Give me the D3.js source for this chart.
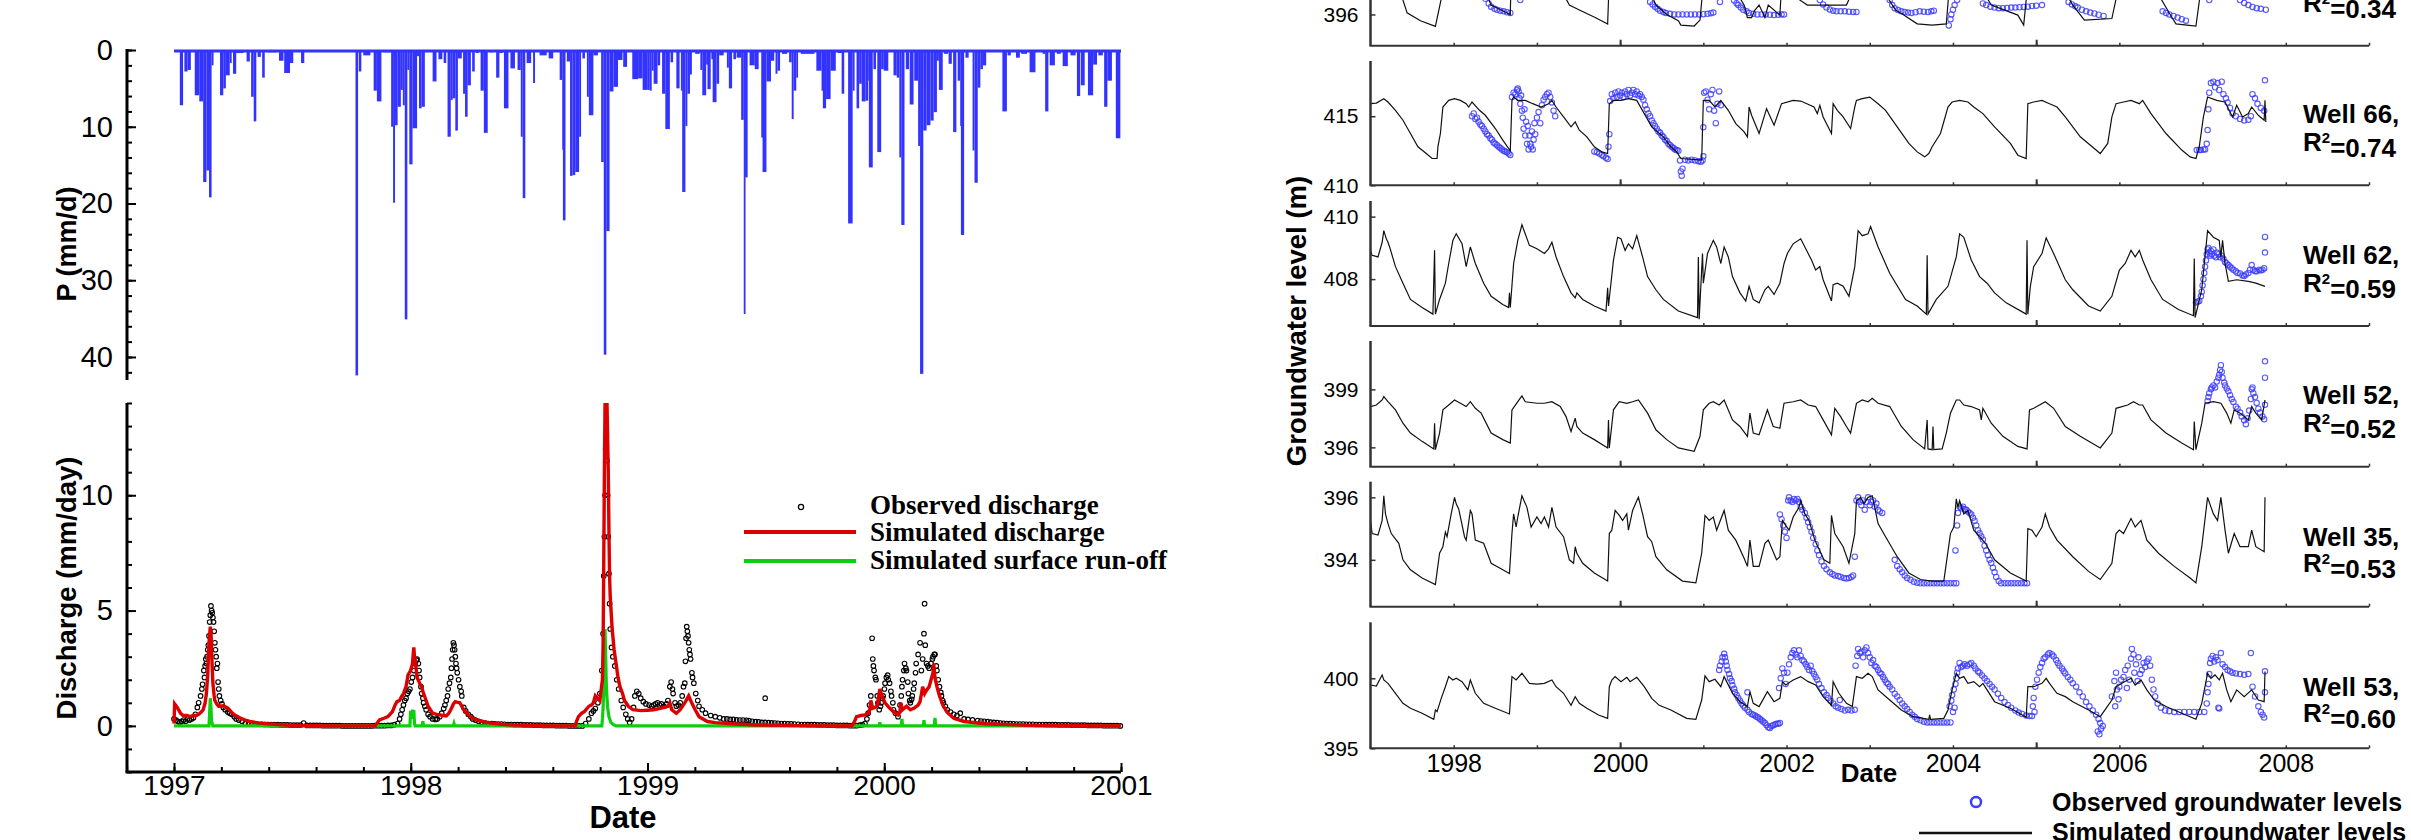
<!DOCTYPE html>
<html><head><meta charset="utf-8">
<script src="https://cdn.jsdelivr.net/npm/d3@7"></script>
<style>body{margin:0;background:#fff}svg{display:block}</style>
</head><body><svg id="c" width="2411" height="840"></svg>
<script>
// ===================== DATA =====================
// ---- Left chart: precipitation events [startDay, endDay, mm/d], days since 1997-01-01
const rainPeriod = [0, 1461];
const rainEvents = [[9,14,7.2],[16,21,2.8],[21,26,2.6],[32,39,5.9],[39,45,6.7],[45,50,17.2],[50,54,15.7],[54,58,19.2],[58,61,2],[71,76,5.9],[76,80,5],[80,86,3.3],[86,89,1.7],[91,96,3.1],[96,107,0.4],[112,117,1.5],[119,123,6.1],[123,127,9.3],[129,134,0.9],[136,140,3.6],[144,158,0.3],[162,169,1.4],[170,179,3.0],[179,184,1.7],[196,201,1.7],[280,284,42.4],[285,289,2.8],[292,303,0.7],[308,313,5.3],[313,320,6.7],[323,334,0.3],[335,338,10],[338,341,19.9],[341,345,9.8],[345,350,7.4],[350,353,5.2],[353,356,7.2],[356,360,35.1],[360,363,2.6],[363,368,14.9],[368,375,10.2],[375,378,0.8],[378,382,7.6],[382,387,7.4],[392,396,0.2],[399,405,4.1],[408,414,1.2],[416,420,1.7],[422,427,11.3],[427,430,6.5],[430,434,6.3],[434,438,10.5],[438,444,1.1],[446,449,5.7],[449,453,8.7],[453,458,4.6],[460,464,2.8],[466,470,0.4],[473,478,5.3],[478,484,10.8],[487,492,0.3],[497,502,3.6],[502,507,0.4],[509,516,7.6],[519,526,2.4],[530,535,2.6],[535,538,11.3],[538,542,19.3],[544,551,1.7],[554,557,4.3],[564,575,0.7],[578,585,1.1],[595,599,3.9],[599,600,13],[600,604,22.2],[606,611,1.5],[611,615,16.4],[615,619,16.3],[619,625,15.9],[625,628,11.3],[630,634,1.1],[637,640,6.1],[640,647,8.5],[647,654,0.7],[659,663,14.6],[663,667,39.7],[667,672,23.6],[672,678,5.4],[678,685,4.8],[685,692,1.3],[693,699,2.2],[707,716,3.8],[716,723,3.7],[723,730,5.2],[730,734,5.2],[734,737,5.3],[737,740,2.7],[740,746,4.4],[746,750,2],[753,758,5.7],[758,765,10.3],[766,770,1.6],[775,780,5],[782,784,5.3],[784,789,18.5],[789,792,9.9],[792,796,5.7],[796,799,3.2],[804,811,0.5],[812,815,2.6],[815,821,5.9],[821,823,1.9],[823,828,5.1],[829,831,1.2],[831,837,6.8],[837,841,4.4],[841,848,0.7],[853,856,2.3],[856,861,5],[863,867,1.2],[868,875,1],[875,879,9.1],[879,881,34.4],[881,885,16.6],[888,896,2],[896,902,2.5],[906,908,11.4],[908,914,15.9],[914,921,4.1],[921,926,1.4],[928,931,3.1],[931,935,2.7],[938,946,0.5],[949,953,1.6],[953,956,9],[956,960,5.3],[960,962,3.6],[967,988,0.5],[991,999,2.7],[999,1001,5.3],[1001,1006,7.6],[1006,1013,6.4],[1013,1021,2.7],[1024,1030,0.4],[1030,1034,5.7],[1040,1047,22.6],[1047,1050,5.3],[1050,1053,0.2],[1053,1057,7.6],[1057,1061,4.4],[1061,1067,6.7],[1067,1071,6.6],[1071,1072,4],[1072,1078,15.3],[1079,1083,2.5],[1085,1091,13.3],[1091,1095,2.5],[1095,1102,2.7],[1110,1115,3.3],[1115,1119,3.6],[1119,1122,14],[1122,1127,22.8],[1129,1134,2.5],[1135,1141,7.1],[1142,1148,4],[1148,1151,12.5],[1151,1156,42.2],[1156,1161,10.5],[1161,1167,9.8],[1167,1172,9.2],[1172,1177,8.1],[1177,1180,1.4],[1180,1186,5.2],[1188,1194,0.5],[1195,1200,1.8],[1202,1207,10.7],[1209,1213,4],[1213,1214,9.9],[1214,1219,24.1],[1221,1226,1],[1232,1235,13.1],[1235,1240,17.3],[1240,1244,4.9],[1244,1248,2.5],[1248,1253,2],[1278,1285,8],[1286,1291,0.7],[1299,1305,1],[1307,1316,0.5],[1320,1329,2.9],[1340,1344,0.5],[1344,1349,8],[1351,1359,2],[1362,1368,0.5],[1371,1379,2.1],[1383,1391,0.7],[1393,1398,6],[1399,1405,4.6],[1410,1418,5.9],[1418,1424,1.9],[1426,1433,0.7],[1435,1440,7.4],[1440,1447,4],[1453,1460,11.5]];

// ---- Observed discharge [day, mm/day]
const obsDischarge = [[0,0.3],[3,0.25],[6,0.2],[9,0.15],[12,0.2],[15,0.25],[18,0.2],[21,0.3],[24,0.25],[27,0.3],[30,0.35],[33,0.5],[36,0.8],[38,1.0],[41,1.3],[43,1.6],[44,1.8],[46,2.4],[47,2.1],[48,2.6],[49,2.9],[50,2.7],[51,3.0],[52,3.3],[53,3.5],[54,3.9],[55,4.5],[56,4.8],[57,5.2],[58,5.0],[59,4.9],[60,4.7],[61,4.5],[62,4.1],[63,3.6],[64,3.3],[65,3.0],[66,2.5],[67,2.7],[68,1.9],[69,1.6],[70,1.3],[72,1.1],[74,0.95],[76,0.8],[79,0.7],[83,0.6],[86,0.55],[89,0.5],[93,0.4],[96,0.3],[100,0.25],[105,0.2],[110,0.1],[115,0.1],[120,0.08],[125,0.08],[130,0.07],[135,0.07],[140,0.06],[145,0.06],[150,0.05],[155,0.05],[160,0.05],[165,0.04],[170,0.04],[175,0.04],[180,0.03],[185,0.03],[190,0.03],[195,0.03],[200,0.12],[205,0.02],[210,0.02],[215,0.02],[220,0.02],[225,0.02],[230,0.01],[235,0.01],[240,0.01],[245,0.01],[250,0.01],[255,0.01],[260,0],[265,0],[270,0],[275,0],[280,0],[285,0],[290,0],[295,0],[300,0],[305,0],[310,0.01],[315,0.01],[320,0.01],[325,0.01],[330,0.02],[335,0.02],[340,0.05],[345,0.1],[348,0.3],[350,0.5],[352,0.7],[354,0.9],[356,1.1],[358,1.2],[360,1.4],[362,1.5],[364,1.6],[366,1.9],[368,2.1],[370,2.4],[372,2.7],[374,2.85],[375,2.9],[377,2.7],[378,2.4],[379,2.1],[381,1.7],[382,1.4],[384,1.2],[385,1.0],[387,0.85],[389,0.7],[392,0.5],[395,0.4],[399,0.3],[403,0.28],[406,0.3],[410,0.4],[413,0.55],[416,0.75],[418,0.9],[420,1.1],[422,1.3],[423,1.6],[425,1.85],[427,2.1],[428,2.5],[429,2.9],[430,3.3],[431,3.6],[432,3.5],[433,3.3],[434,3.0],[435,2.7],[436,2.5],[437,2.3],[439,2.0],[441,1.7],[443,1.5],[444,1.3],[447,0.8],[450,0.65],[454,0.5],[458,0.4],[461,0.3],[465,0.25],[470,0.2],[475,0.15],[480,0.12],[485,0.1],[490,0.1],[495,0.09],[500,0.08],[505,0.08],[510,0.07],[515,0.06],[520,0.06],[525,0.05],[530,0.05],[535,0.05],[540,0.04],[545,0.04],[550,0.04],[555,0.03],[560,0.03],[565,0.03],[570,0.02],[575,0.02],[580,0.02],[585,0.02],[590,0.01],[595,0.01],[600,0.01],[605,0.01],[610,0],[615,0],[620,0],[625,0],[630,0],[635,0.1],[640,0.3],[644,0.55],[647,0.65],[650,0.75],[654,1.0],[657,1.4],[660,2.4],[662,4.0],[663,6.5],[664,8.2],[665,10.0],[666,12.0],[667,12.6],[668,11.5],[669,10.0],[670,8.2],[671,6.6],[672,5.3],[673,4.2],[675,3.4],[677,3.0],[680,2.6],[683,2.0],[686,1.6],[690,1.1],[693,0.8],[697,0.5],[700,0.3],[703,0.15],[706,0.3],[709,0.8],[711,1.3],[714,1.5],[717,1.4],[720,1.2],[724,1.05],[728,0.95],[733,0.9],[737,0.85],[740,0.9],[743,0.95],[746,1.0],[749,0.9],[752,0.95],[756,0.85],[760,0.95],[762,1.1],[765,1.7],[767,1.9],[769,1.6],[770,1.4],[773,1.0],[775,0.85],[778,0.9],[781,1.0],[784,1.3],[786,1.7],[788,1.85],[789,2.8],[790,3.8],[791,4.3],[792,4.1],[793,3.9],[794,3.6],[795,3.3],[796,3.1],[797,2.9],[799,2.3],[800,2.1],[802,1.85],[805,1.4],[808,1.1],[810,0.85],[815,0.7],[820,0.55],[828,0.45],[835,0.4],[842,0.35],[848,0.3],[853,0.3],[858,0.28],[863,0.28],[868,0.26],[873,0.25],[878,0.25],[883,0.24],[887,0.23],[892,0.2],[897,0.18],[902,0.17],[907,0.15],[912,1.2],[912,0.15],[917,0.14],[922,0.13],[927,0.12],[932,0.11],[937,0.1],[942,0.1],[947,0.09],[952,0.09],[957,0.08],[963,0.07],[968,0.06],[973,0.06],[978,0.05],[983,0.05],[988,0.05],[993,0.04],[998,0.04],[1003,0.04],[1008,0.03],[1013,0.03],[1018,0.03],[1023,0.02],[1028,0.02],[1033,0.02],[1038,0.02],[1043,0.01],[1048,0.01],[1053,0.01],[1058,0.03],[1062,0.05],[1066,0.1],[1069,0.3],[1071,0.55],[1073,0.9],[1075,1.3],[1077,3.8],[1078,2.9],[1079,2.6],[1080,2.4],[1082,2.1],[1083,2.0],[1085,1.3],[1086,1.0],[1088,0.7],[1090,0.85],[1091,1.0],[1093,1.2],[1094,1.3],[1096,1.6],[1097,1.85],[1099,2.1],[1101,2.2],[1102,2.0],[1104,1.85],[1106,1.5],[1107,1.3],[1109,1.0],[1110,0.7],[1113,0.55],[1117,0.4],[1120,0.9],[1122,1.3],[1123,1.7],[1124,2.0],[1126,2.4],[1127,2.7],[1129,2.5],[1130,2.4],[1132,1.9],[1133,1.4],[1135,1.1],[1136,1.0],[1138,1.15],[1139,1.3],[1141,1.6],[1142,1.85],[1144,2.3],[1145,2.7],[1148,3.1],[1151,3.6],[1153,2.4],[1155,2.9],[1157,4.0],[1158,5.3],[1159,3.5],[1161,2.7],[1163,2.6],[1165,2.5],[1168,2.7],[1170,2.9],[1171,3.0],[1173,3.1],[1174,3.1],[1176,2.6],[1177,2.4],[1179,2.0],[1181,1.7],[1183,1.45],[1184,1.3],[1186,1.1],[1187,1.0],[1190,0.85],[1193,0.7],[1198,0.6],[1203,0.5],[1208,0.45],[1213,0.55],[1219,0.3],[1225,0.28],[1232,0.26],[1240,0.23],[1245,0.21],[1250,0.2],[1255,0.18],[1260,0.16],[1265,0.15],[1270,0.14],[1275,0.12],[1280,0.11],[1285,0.1],[1290,0.1],[1295,0.09],[1300,0.08],[1305,0.08],[1310,0.08],[1315,0.07],[1320,0.07],[1325,0.07],[1330,0.06],[1335,0.06],[1340,0.06],[1345,0.05],[1350,0.05],[1355,0.05],[1360,0.05],[1365,0.04],[1370,0.04],[1375,0.04],[1380,0.04],[1385,0.03],[1390,0.03],[1395,0.03],[1400,0.03],[1405,0.03],[1410,0.02],[1415,0.02],[1420,0.02],[1425,0.02],[1430,0.02],[1435,0.01],[1440,0.01],[1445,0.01],[1450,0.01],[1455,0.01],[1460,0]];

// ---- Simulated discharge [day, mm/day]
const simDischarge = [[0,0.1],[1,0.95],[5,0.8],[10,0.55],[14,0.45],[20,0.45],[25,0.4],[30,0.45],[34,0.45],[38,0.5],[42,0.6],[45,0.7],[48,1.0],[50,1.4],[52,2.2],[54,3.6],[56,4.3],[57,4.1],[58,3.3],[59,2.5],[60,1.85],[62,1.3],[63,1.1],[66,0.95],[69,0.85],[72,0.85],[76,0.87],[80,0.82],[83,0.77],[86,0.68],[89,0.58],[95,0.45],[103,0.33],[110,0.25],[117,0.19],[130,0.13],[145,0.09],[160,0.06],[179,0.03],[213,0.01],[250,0.0],[310,0.0],[313,0.1],[317,0.26],[324,0.33],[330,0.4],[337,0.62],[341,0.9],[344,1.05],[348,1.1],[351,1.27],[354,1.4],[358,1.7],[361,2.2],[365,2.4],[368,2.7],[369,3.1],[370,3.4],[371,3.0],[372,2.9],[375,2.1],[379,1.85],[382,1.7],[385,1.4],[389,1.1],[392,0.85],[399,0.55],[405,0.5],[410,0.48],[415,0.45],[420,0.43],[424,0.55],[427,0.7],[431,0.95],[434,1.05],[438,1.02],[441,1.0],[444,0.85],[447,0.7],[451,0.58],[454,0.48],[461,0.33],[468,0.25],[475,0.19],[489,0.12],[505,0.07],[523,0.04],[558,0.01],[590,0.0],[619,0.0],[621,0.2],[624,0.4],[629,0.55],[633,0.62],[637,0.75],[640,0.85],[644,0.9],[647,1.0],[650,1.3],[653,1.2],[657,1.1],[660,1.8],[661,2.0],[662,3.5],[663,7.0],[664,11.0],[665,14.0],[668,14.0],[670,11.0],[671,8.5],[672,6.5],[673,5.6],[676,4.2],[679,3.3],[682,2.7],[685,2.1],[688,1.7],[692,1.4],[695,1.1],[701,0.85],[708,0.7],[720,0.66],[730,0.68],[740,0.7],[752,0.77],[762,0.85],[765,1.0],[768,0.7],[775,0.55],[781,0.7],[788,1.0],[794,1.3],[797,1.1],[804,0.7],[810,0.4],[823,0.19],[835,0.14],[867,0.08],[899,0.04],[963,0.01],[1046,0.0],[1050,0.2],[1053,0.4],[1060,0.45],[1066,0.48],[1072,0.55],[1074,0.8],[1075,1.1],[1078,0.76],[1082,0.8],[1085,0.9],[1089,1.6],[1092,1.3],[1097,1.0],[1104,0.77],[1110,0.62],[1117,0.48],[1120,0.6],[1121,1.0],[1124,0.7],[1130,0.85],[1136,0.7],[1142,0.77],[1148,0.9],[1151,1.05],[1155,1.7],[1158,1.4],[1161,1.55],[1165,1.7],[1168,2.0],[1171,2.3],[1172,2.7],[1174,2.1],[1177,1.7],[1181,1.3],[1187,0.85],[1193,0.58],[1203,0.33],[1219,0.19],[1251,0.09],[1315,0.03],[1400,0.01],[1461,0.0]];

// ---- Simulated surface run-off [day, mm/day]
const simRunoff = [[0,0],[54,0],[55,0.6],[56,1.2],[57,0.8],[58,0.2],[60,0],[364,0],[365,0.65],[366,0.3],[367,0.5],[368,0.7],[369,0.4],[370,0.68],[371,0.1],[372,0],[383,0],[384,0.2],[385,0],[431,0],[432,0.1],[433,0],[660,0],[661,0.3],[662,0.8],[663,1.5],[664,3.0],[665,4.2],[666,3.0],[667,1.8],[668,1.2],[669,0.8],[671,0.4],[674,0.15],[678,0.05],[682,0],[1088,0],[1089,0.15],[1090,0],[1122,0],[1123,0.3],[1124,0],[1156,0],[1157,0.25],[1158,0],[1173,0],[1174,0.35],[1175,0],[1461,0]];

const leftYearTicks = [1997, 1998, 1999, 2000, 2001];
const precipTicks = [0, 10, 20, 30, 40];
const dischargeTicks = [0, 5, 10];
const legendLeft = ["Observed discharge", "Simulated discharge", "Simulated surface run-off"];

// ---- Right chart: groundwater levels [decimal year, m]
const wellTopSim = [[1997.0,397.2],[1997.2,397.4],[1997.36,396.9],[1997.39,396.46],[1997.44,396.05],[1997.6,395.8],[1997.78,395.62],[1997.85,396.5],[1997.92,397.3],[1998.2,397.3],[1998.4,396.6],[1998.45,396.3],[1998.6,396.1],[1998.68,396.0],[1998.69,397.2],[1999.2,397.2],[1999.35,396.5],[1999.39,396.3],[1999.51,396.14],[1999.7,395.9],[1999.85,395.69],[1999.87,397.2],[2000.3,397.1],[2000.43,396.3],[2000.56,396.0],[2000.7,395.8],[2000.73,395.66],[2000.89,395.63],[2000.96,395.82],[2001.0,397.0],[2001.4,396.7],[2001.49,396.3],[2001.53,395.9],[2001.58,395.9],[2001.62,396.14],[2001.67,396.3],[2001.74,395.9],[2001.78,396.3],[2001.92,395.98],[2001.94,396.9],[2002.16,396.46],[2002.25,396.3],[2002.72,396.3],[2002.77,396.6],[2002.84,397.3],[2003.2,396.6],[2003.31,396.14],[2003.4,396.0],[2003.57,395.7],[2003.75,395.66],[2003.92,395.7],[2003.96,397.0],[2004.35,396.8],[2004.46,396.3],[2004.78,395.98],[2004.85,395.66],[2004.9,397.0],[2005.35,396.7],[2005.44,396.3],[2005.58,395.82],[2005.91,395.87],[2006.0,397.0],[2006.5,396.5],[2006.61,396.0],[2006.68,395.7],[2006.92,395.63],[2006.99,397.0],[2007.4,396.8],[2007.75,396.6]];
const wellTopObs = [[1998.38,396.5],[1998.42,396.35],[1998.45,396.25],[1998.49,396.18],[1998.52,396.15],[1998.56,396.12],[1998.6,396.1],[1998.64,396.07],[1998.68,396.05],[1998.8,396.46],[2000.36,396.4],[2000.39,396.32],[2000.42,396.25],[2000.45,396.18],[2000.48,396.12],[2000.52,396.08],[2000.55,396.05],[2000.6,396.02],[2000.65,396.0],[2000.7,396.0],[2000.75,396.0],[2000.8,396.0],[2000.85,396.0],[2000.9,396.0],[2000.95,396.0],[2001.0,396.01],[2001.05,396.02],[2001.09,396.04],[2001.12,396.06],[2001.2,396.4],[2001.37,396.45],[2001.4,396.36],[2001.42,396.3],[2001.45,396.22],[2001.48,396.15],[2001.52,396.1],[2001.55,396.05],[2001.6,396.02],[2001.65,396.0],[2001.7,396.0],[2001.75,396.0],[2001.8,395.99],[2001.85,395.98],[2001.9,395.99],[2001.94,396.0],[2001.97,396.0],[2002.4,396.46],[2002.44,396.32],[2002.48,396.22],[2002.52,396.16],[2002.56,396.12],[2002.6,396.1],[2002.65,396.1],[2002.7,396.1],[2002.75,396.09],[2002.8,396.08],[2002.84,396.08],[2003.24,396.46],[2003.27,396.3],[2003.3,396.2],[2003.34,396.14],[2003.38,396.1],[2003.42,396.08],[2003.46,396.06],[2003.5,396.05],[2003.55,396.07],[2003.6,396.1],[2003.65,396.09],[2003.7,396.08],[2003.74,396.1],[2003.77,396.12],[2003.95,395.65],[2003.97,395.85],[2003.98,396.0],[2004.0,396.15],[2004.02,396.3],[2004.05,396.46],[2004.36,396.35],[2004.4,396.3],[2004.45,396.25],[2004.5,396.22],[2004.55,396.2],[2004.6,396.2],[2004.65,396.21],[2004.7,396.22],[2004.75,396.22],[2004.8,396.23],[2004.85,396.24],[2004.9,396.25],[2004.95,396.27],[2005.0,396.28],[2005.07,396.3],[2005.39,396.4],[2005.43,396.32],[2005.47,396.26],[2005.5,396.22],[2005.55,396.15],[2005.6,396.1],[2005.65,396.06],[2005.7,396.03],[2005.75,395.99],[2005.81,395.95],[2006.52,396.1],[2006.56,396.05],[2006.6,396.0],[2006.65,395.95],[2006.7,395.9],[2006.75,395.85],[2006.8,395.8],[2007.08,396.46],[2007.45,396.46],[2007.5,396.37],[2007.55,396.3],[2007.6,396.24],[2007.65,396.2],[2007.7,396.18],[2007.76,396.15]];

const well66Sim = [[1997.0,415.91],[1997.07,415.95],[1997.16,416.27],[1997.21,416.03],[1997.3,415.43],[1997.39,414.71],[1997.48,413.75],[1997.57,412.79],[1997.67,412.3],[1997.74,411.94],[1997.8,411.94],[1997.81,412.79],[1997.84,413.75],[1997.87,415.67],[1997.94,416.15],[1998.01,416.27],[1998.08,416.15],[1998.15,415.91],[1998.18,415.67],[1998.22,416.03],[1998.31,415.43],[1998.38,415.07],[1998.5,414.11],[1998.59,413.27],[1998.68,412.5],[1998.7,416.15],[1998.72,416.39],[1998.77,416.15],[1998.86,416.15],[1998.95,415.91],[1999.05,415.67],[1999.14,415.91],[1999.18,416.15],[1999.23,415.67],[1999.32,414.95],[1999.41,414.23],[1999.46,414.59],[1999.51,413.99],[1999.6,413.51],[1999.69,412.79],[1999.78,412.42],[1999.85,412.3],[1999.87,415.91],[1999.92,416.15],[2000.01,416.15],[2000.1,416.27],[2000.2,416.15],[2000.29,415.19],[2000.38,414.23],[2000.52,413.51],[2000.61,412.79],[2000.68,412.42],[2000.73,411.94],[2000.98,411.82],[2001.0,416.15],[2001.07,416.15],[2001.14,415.67],[2001.21,416.15],[2001.3,415.43],[2001.39,414.47],[2001.49,413.87],[2001.53,413.51],[2001.55,415.67],[2001.58,415.07],[2001.67,413.75],[2001.76,415.55],[2001.85,414.35],[2001.94,415.91],[2002.08,416.15],[2002.17,416.1],[2002.33,415.67],[2002.37,415.19],[2002.4,415.79],[2002.44,414.95],[2002.54,413.75],[2002.56,415.91],[2002.61,415.43],[2002.68,414.95],[2002.77,414.11],[2002.82,415.67],[2002.84,416.15],[2002.91,416.27],[2003.0,416.39],[2003.1,415.91],[2003.19,415.43],[2003.33,414.23],[2003.47,413.03],[2003.57,412.42],[2003.66,412.06],[2003.71,412.3],[2003.75,412.79],[2003.85,413.75],[2003.94,415.67],[2003.99,416.03],[2004.08,416.15],[2004.18,416.03],[2004.25,415.67],[2004.36,415.19],[2004.5,414.23],[2004.69,413.03],[2004.78,412.18],[2004.88,411.94],[2004.9,415.91],[2004.97,416.03],[2005.07,416.15],[2005.16,415.91],[2005.25,415.67],[2005.35,414.95],[2005.53,413.51],[2005.72,412.55],[2005.77,412.3],[2005.86,413.03],[2005.91,414.95],[2005.96,415.91],[2006.05,416.03],[2006.14,416.15],[2006.24,415.91],[2006.28,416.15],[2006.38,415.19],[2006.56,413.75],[2006.75,412.55],[2006.85,412.06],[2006.92,411.94],[2006.96,412.79],[2007.01,414.95],[2007.06,416.39],[2007.17,416.15],[2007.27,416.03],[2007.36,414.95],[2007.41,415.79],[2007.48,414.95],[2007.55,415.19],[2007.59,415.67],[2007.67,415.07],[2007.74,414.71],[2007.75,416.15],[2007.76,414.59]];
const well66Obs = [[1998.22,415.0],[1998.24,415.2],[1998.26,414.8],[1998.28,414.9],[1998.3,414.6],[1998.32,414.4],[1998.34,414.3],[1998.36,414.1],[1998.38,413.9],[1998.4,413.7],[1998.42,413.6],[1998.44,413.4],[1998.46,413.3],[1998.48,413.1],[1998.5,413.0],[1998.52,412.9],[1998.54,412.8],[1998.56,412.7],[1998.58,412.6],[1998.6,412.5],[1998.62,412.45],[1998.64,412.4],[1998.66,412.3],[1998.68,412.2],[1998.7,416.4],[1998.72,416.7],[1998.74,416.6],[1998.76,416.9],[1998.77,417.0],[1998.78,416.8],[1998.79,416.3],[1998.8,415.9],[1998.81,416.5],[1998.82,415.4],[1998.83,414.9],[1998.84,414.1],[1998.85,415.5],[1998.86,413.6],[1998.87,414.6],[1998.88,413.0],[1998.89,414.3],[1998.9,412.6],[1998.91,413.6],[1998.92,413.0],[1998.93,412.8],[1998.94,413.9],[1998.95,412.6],[1998.96,413.3],[1998.97,414.5],[1998.98,413.7],[1999.0,414.9],[1999.02,415.3],[1999.04,414.5],[1999.06,415.8],[1999.08,416.2],[1999.1,416.4],[1999.12,416.6],[1999.14,416.7],[1999.16,416.4],[1999.18,416.0],[1999.2,415.4],[1999.22,415.0],[1999.69,412.45],[1999.72,412.4],[1999.75,412.3],[1999.78,412.2],[1999.8,412.1],[1999.83,412.0],[1999.85,411.9],[1999.86,412.8],[1999.87,413.7],[1999.88,416.1],[1999.9,416.6],[1999.92,416.3],[1999.94,416.7],[1999.96,416.4],[1999.98,416.8],[2000.0,416.5],[2000.02,416.7],[2000.04,416.4],[2000.06,416.8],[2000.08,416.6],[2000.1,416.9],[2000.12,416.5],[2000.14,416.7],[2000.16,416.9],[2000.18,416.6],[2000.2,416.8],[2000.22,416.5],[2000.24,416.6],[2000.26,416.4],[2000.28,416.2],[2000.3,415.8],[2000.32,415.5],[2000.34,415.2],[2000.36,415.0],[2000.38,414.7],[2000.4,414.5],[2000.42,414.3],[2000.44,414.1],[2000.46,413.9],[2000.48,413.8],[2000.5,413.6],[2000.52,413.5],[2000.54,413.3],[2000.56,413.2],[2000.58,413.0],[2000.6,412.9],[2000.62,412.8],[2000.64,412.7],[2000.66,412.6],[2000.68,412.55],[2000.7,412.5],[2000.72,411.8],[2000.73,411.0],[2000.74,410.7],[2000.75,411.2],[2000.78,411.85],[2000.82,411.8],[2000.86,411.85],[2000.9,411.8],[2000.94,411.75],[2000.97,411.7],[2000.99,411.8],[2001.0,412.1],[2001.0,414.2],[2001.01,416.7],[2001.03,416.8],[2001.05,416.2],[2001.07,415.5],[2001.09,416.6],[2001.11,416.9],[2001.13,415.4],[2001.15,414.5],[2001.17,415.9],[2001.19,416.8],[2001.21,415.8],[2006.93,412.55],[2006.96,412.55],[2006.98,412.55],[2007.01,412.6],[2007.03,412.6],[2007.05,413.0],[2007.06,414.0],[2007.07,415.5],[2007.08,416.7],[2007.1,417.4],[2007.13,417.5],[2007.15,417.1],[2007.18,417.4],[2007.2,416.9],[2007.23,417.5],[2007.25,416.6],[2007.28,416.3],[2007.3,416.0],[2007.33,415.6],[2007.36,415.2],[2007.4,415.0],[2007.45,414.8],[2007.5,414.7],[2007.55,414.75],[2007.58,415.0],[2007.6,416.6],[2007.63,416.3],[2007.66,415.9],[2007.7,415.6],[2007.74,415.4],[2007.75,417.6]];

const well62Sim = [[1997.0,408.92],[1997.02,408.76],[1997.09,408.71],[1997.14,409.18],[1997.16,409.55],[1997.19,409.29],[1997.21,409.18],[1997.23,409.03],[1997.3,408.4],[1997.39,407.87],[1997.48,407.35],[1997.62,407.09],[1997.75,406.88],[1997.77,408.92],[1997.78,406.88],[1997.83,407.35],[1997.9,407.87],[1997.94,408.5],[1997.99,409.24],[1998.03,409.45],[1998.1,409.13],[1998.15,408.4],[1998.2,409.03],[1998.26,408.5],[1998.36,407.87],[1998.45,407.45],[1998.59,407.19],[1998.66,407.09],[1998.67,407.56],[1998.68,407.09],[1998.72,408.5],[1998.77,409.24],[1998.82,409.74],[1998.91,409.08],[1999.0,408.97],[1999.09,408.82],[1999.14,408.97],[1999.18,409.18],[1999.23,408.71],[1999.32,408.08],[1999.41,407.56],[1999.46,407.4],[1999.48,407.56],[1999.55,407.35],[1999.69,407.14],[1999.83,406.98],[1999.85,407.72],[1999.86,407.14],[1999.92,408.61],[1999.97,409.34],[2000.01,409.29],[2000.06,408.92],[2000.1,409.13],[2000.15,408.97],[2000.2,409.39],[2000.27,408.71],[2000.33,408.08],[2000.43,407.66],[2000.52,407.35],[2000.7,406.98],[2000.93,406.77],[2000.94,408.71],[2000.95,406.72],[2000.99,408.82],[2001.0,407.87],[2001.05,408.82],[2001.12,409.24],[2001.16,409.03],[2001.21,408.5],[2001.25,409.03],[2001.3,408.71],[2001.35,408.08],[2001.44,407.56],[2001.51,407.3],[2001.55,407.77],[2001.6,407.35],[2001.67,407.24],[2001.74,407.66],[2001.78,407.77],[2001.85,407.51],[2001.92,407.87],[2001.97,408.5],[2002.01,408.82],[2002.08,409.13],[2002.17,409.29],[2002.3,408.61],[2002.35,408.29],[2002.4,408.4],[2002.44,407.98],[2002.54,407.3],[2002.56,407.82],[2002.61,407.87],[2002.68,407.77],[2002.75,407.45],[2002.82,408.4],[2002.86,409.55],[2002.91,409.39],[2002.98,409.45],[2003.01,409.68],[2003.1,409.03],[2003.24,408.19],[2003.43,407.35],[2003.57,407.14],[2003.68,406.88],[2003.69,408.76],[2003.7,406.88],[2003.8,407.35],[2003.94,407.77],[2004.04,408.71],[2004.08,409.45],[2004.13,409.34],[2004.22,408.61],[2004.32,408.08],[2004.41,407.87],[2004.5,407.56],[2004.64,407.24],[2004.88,406.88],[2004.89,409.24],[2004.9,406.88],[2004.93,407.77],[2004.97,408.4],[2005.07,408.82],[2005.12,409.32],[2005.21,408.82],[2005.35,407.98],[2005.44,407.66],[2005.63,407.14],[2005.77,406.98],[2005.91,407.45],[2006.0,408.29],[2006.07,408.5],[2006.14,408.92],[2006.19,408.71],[2006.24,408.92],[2006.28,408.61],[2006.38,407.98],[2006.52,407.35],[2006.71,407.03],[2006.89,406.83],[2006.9,408.66],[2006.91,406.77],[2006.99,407.66],[2007.06,409.55],[2007.13,409.34],[2007.2,409.24],[2007.22,408.71],[2007.24,409.24],[2007.27,408.5],[2007.31,407.93],[2007.41,407.98],[2007.55,407.93],[2007.64,407.87],[2007.75,407.77]];
const well62Obs = [[2006.92,407.25],[2006.94,407.28],[2006.96,407.3],[2006.98,407.45],[2006.99,407.6],[2007.0,407.8],[2007.01,408.0],[2007.02,408.2],[2007.03,408.4],[2007.04,408.6],[2007.05,408.8],[2007.06,408.95],[2007.07,409.0],[2007.08,408.85],[2007.09,408.75],[2007.1,408.9],[2007.11,408.8],[2007.13,408.95],[2007.14,408.75],[2007.16,408.7],[2007.17,408.85],[2007.19,408.8],[2007.21,408.7],[2007.23,408.75],[2007.25,408.65],[2007.27,408.55],[2007.29,408.5],[2007.31,408.45],[2007.33,408.4],[2007.35,408.35],[2007.37,408.3],[2007.4,408.25],[2007.42,408.2],[2007.45,408.18],[2007.48,408.12],[2007.5,408.1],[2007.52,408.15],[2007.55,408.2],[2007.57,408.3],[2007.59,408.45],[2007.61,408.3],[2007.63,408.25],[2007.65,408.25],[2007.68,408.3],[2007.7,408.28],[2007.72,408.3],[2007.74,408.35],[2007.75,409.35],[2007.75,408.85]];

const well52Sim = [[1997.0,398.11],[1997.07,398.19],[1997.14,398.45],[1997.16,398.62],[1997.21,398.36],[1997.3,397.94],[1997.39,397.25],[1997.48,396.74],[1997.62,396.31],[1997.76,395.92],[1997.77,397.25],[1997.78,395.88],[1997.83,396.74],[1997.87,397.94],[1997.94,398.19],[1998.01,398.45],[1998.08,398.28],[1998.15,398.11],[1998.2,398.36],[1998.26,398.02],[1998.33,397.77],[1998.45,396.74],[1998.59,396.4],[1998.68,396.22],[1998.7,397.94],[1998.77,398.36],[1998.82,398.66],[1998.86,398.36],[1999.0,398.28],[1999.09,398.28],[1999.18,398.36],[1999.28,398.11],[1999.35,397.59],[1999.41,396.82],[1999.46,397.51],[1999.48,397.08],[1999.55,396.74],[1999.69,396.4],[1999.85,395.97],[1999.86,397.42],[1999.87,395.97],[1999.92,397.94],[1999.99,398.36],[2000.08,398.28],[2000.15,398.36],[2000.22,398.45],[2000.33,397.77],[2000.43,396.91],[2000.56,396.4],[2000.7,395.97],[2000.89,395.8],[2000.96,396.57],[2001.0,397.94],[2001.07,398.28],[2001.12,398.36],[2001.19,398.19],[2001.25,398.45],[2001.35,397.42],[2001.44,397.08],[2001.53,396.57],[2001.56,397.77],[2001.6,396.74],[2001.67,396.65],[2001.77,397.94],[2001.84,397.08],[2001.92,396.99],[2001.97,398.28],[2002.08,398.36],[2002.17,398.45],[2002.26,398.19],[2002.35,398.11],[2002.44,397.42],[2002.54,396.65],[2002.58,398.02],[2002.65,397.59],[2002.72,397.08],[2002.77,396.74],[2002.84,398.28],[2002.91,398.45],[2002.98,398.36],[2003.03,398.54],[2003.1,398.28],[2003.24,398.11],[2003.38,397.08],[2003.52,396.4],[2003.66,395.92],[2003.69,397.42],[2003.7,395.92],[2003.75,395.88],[2003.76,397.08],[2003.77,395.88],[2003.87,395.92],[2003.92,396.74],[2003.97,397.77],[2004.04,398.45],[2004.08,398.45],[2004.13,398.19],[2004.22,398.11],[2004.32,397.94],[2004.34,397.42],[2004.36,398.02],[2004.46,397.25],[2004.6,396.57],[2004.78,396.05],[2004.89,395.92],[2004.92,397.94],[2004.97,398.02],[2005.11,398.36],[2005.21,398.02],[2005.35,397.08],[2005.53,396.57],[2005.77,395.97],[2005.91,396.74],[2005.96,398.02],[2006.1,398.19],[2006.17,398.36],[2006.24,398.19],[2006.28,398.19],[2006.38,397.42],[2006.56,396.74],[2006.75,396.22],[2006.89,395.88],[2006.9,397.34],[2006.92,395.88],[2006.99,397.25],[2007.03,398.28],[2007.13,398.36],[2007.22,398.28],[2007.29,397.77],[2007.34,397.25],[2007.38,397.94],[2007.45,397.77],[2007.55,397.42],[2007.59,398.11],[2007.64,397.77],[2007.71,397.42],[2007.75,398.45]];
const well52Obs = [[2007.06,398.4],[2007.07,398.6],[2007.08,398.8],[2007.1,399.0],[2007.11,399.1],[2007.13,399.2],[2007.15,399.1],[2007.17,399.4],[2007.19,399.6],[2007.2,399.75],[2007.21,400.0],[2007.22,400.25],[2007.23,399.9],[2007.24,399.6],[2007.26,399.35],[2007.27,399.2],[2007.29,399.05],[2007.31,398.9],[2007.33,398.7],[2007.35,398.5],[2007.37,398.35],[2007.4,398.1],[2007.42,398.0],[2007.45,397.8],[2007.47,397.6],[2007.5,397.4],[2007.52,397.2],[2007.54,397.5],[2007.56,397.9],[2007.58,398.5],[2007.59,399.0],[2007.6,399.1],[2007.61,398.8],[2007.63,398.6],[2007.65,398.3],[2007.67,398.0],[2007.69,397.8],[2007.72,397.6],[2007.74,397.45],[2007.75,400.45],[2007.75,399.6],[2007.75,398.2]];

const well35Sim = [[1997.0,395.26],[1997.02,394.84],[1997.09,394.79],[1997.14,395.26],[1997.16,396.05],[1997.18,395.47],[1997.21,395.16],[1997.25,394.84],[1997.34,394.53],[1997.39,394.0],[1997.48,393.68],[1997.62,393.42],[1997.78,393.21],[1997.83,394.21],[1997.87,394.42],[1997.9,394.89],[1997.92,394.74],[1997.97,395.47],[1998.01,396.0],[1998.03,395.79],[1998.06,395.63],[1998.13,394.74],[1998.15,394.63],[1998.2,395.58],[1998.22,395.47],[1998.26,394.63],[1998.36,394.53],[1998.45,393.89],[1998.59,393.68],[1998.67,393.56],[1998.7,394.84],[1998.72,395.47],[1998.75,395.05],[1998.77,395.37],[1998.82,396.05],[1998.88,395.68],[1998.93,395.05],[1999.0,395.37],[1999.05,395.16],[1999.09,395.37],[1999.14,395.05],[1999.18,395.68],[1999.23,395.05],[1999.32,394.74],[1999.39,394.0],[1999.44,393.89],[1999.46,394.42],[1999.48,394.21],[1999.55,393.89],[1999.69,393.58],[1999.85,393.32],[1999.87,394.84],[1999.9,394.95],[1999.94,395.58],[1999.99,395.42],[2000.03,395.26],[2000.08,395.47],[2000.1,394.95],[2000.15,395.58],[2000.2,395.89],[2000.22,396.0],[2000.27,395.47],[2000.33,394.74],[2000.38,394.58],[2000.43,394.1],[2000.56,393.68],[2000.75,393.32],[2000.91,393.26],[2000.98,394.21],[2001.02,395.42],[2001.07,395.26],[2001.12,395.37],[2001.16,394.95],[2001.25,395.58],[2001.3,394.95],[2001.39,394.63],[2001.49,394.05],[2001.53,393.79],[2001.56,394.63],[2001.6,393.79],[2001.67,393.79],[2001.74,394.53],[2001.78,394.63],[2001.88,394.0],[2001.92,394.1],[2001.95,395.26],[2001.99,395.1],[2002.03,394.95],[2002.08,395.37],[2002.15,395.68],[2002.17,395.89],[2002.22,395.47],[2002.27,395.26],[2002.34,394.63],[2002.45,394.0],[2002.52,393.89],[2002.54,395.42],[2002.58,394.84],[2002.68,394.42],[2002.75,393.89],[2002.82,394.84],[2002.84,395.89],[2002.89,396.0],[2002.93,395.79],[2002.98,396.0],[2003.03,396.05],[2003.1,395.16],[2003.19,394.74],[2003.33,394.1],[2003.47,393.58],[2003.61,393.37],[2003.75,393.32],[2003.89,393.32],[2003.97,394.84],[2004.01,395.05],[2004.04,395.95],[2004.06,395.68],[2004.08,395.89],[2004.13,395.47],[2004.18,395.58],[2004.25,394.95],[2004.32,394.74],[2004.39,394.53],[2004.5,394.0],[2004.69,393.58],[2004.88,393.32],[2004.9,395.0],[2004.95,394.95],[2005.0,394.74],[2005.07,395.05],[2005.11,395.47],[2005.16,395.05],[2005.25,394.63],[2005.44,394.1],[2005.63,393.63],[2005.77,393.37],[2005.91,393.89],[2005.96,394.84],[2006.0,394.95],[2006.05,394.84],[2006.14,395.32],[2006.19,395.05],[2006.26,395.26],[2006.33,394.63],[2006.47,394.21],[2006.66,393.79],[2006.85,393.42],[2006.92,393.26],[2006.99,394.42],[2007.06,396.0],[2007.13,395.47],[2007.18,395.26],[2007.22,396.0],[2007.27,394.95],[2007.31,394.21],[2007.38,394.84],[2007.45,394.42],[2007.55,394.42],[2007.59,394.95],[2007.64,394.42],[2007.74,394.26],[2007.75,396.0]];
const well35Obs = [[2001.92,395.45],[2001.94,395.3],[2001.96,395.1],[2001.98,394.9],[2002.0,394.7],[2002.02,395.9],[2002.03,396.0],[2002.05,395.9],[2002.07,395.85],[2002.09,395.95],[2002.11,395.9],[2002.13,395.95],[2002.15,395.85],[2002.17,395.7],[2002.19,395.6],[2002.22,395.5],[2002.24,395.35],[2002.26,395.2],[2002.28,395.05],[2002.3,394.9],[2002.32,394.7],[2002.35,394.5],[2002.37,394.3],[2002.39,394.15],[2002.42,393.95],[2002.45,393.8],[2002.48,393.7],[2002.52,393.6],[2002.55,393.55],[2002.58,393.5],[2002.62,393.48],[2002.65,393.45],[2002.69,393.42],[2002.72,393.4],[2002.75,393.42],[2002.78,393.45],[2002.8,393.5],[2002.82,394.1],[2002.84,395.9],[2002.86,396.0],[2002.88,395.85],[2002.9,395.75],[2002.92,395.9],[2002.94,395.6],[2002.96,395.85],[2002.98,396.0],[2003.0,395.75],[2003.02,395.85],[2003.04,395.9],[2003.06,395.7],[2003.08,395.8],[2003.1,395.6],[2003.12,395.55],[2003.15,395.5],[2003.3,394.0],[2003.33,393.8],[2003.36,393.7],[2003.39,393.6],[2003.42,393.5],[2003.45,393.42],[2003.49,393.36],[2003.53,393.3],[2003.57,393.27],[2003.61,393.25],[2003.65,393.25],[2003.69,393.25],[2003.73,393.25],[2003.77,393.25],[2003.81,393.25],[2003.85,393.25],[2003.89,393.25],[2003.93,393.25],[2003.97,393.25],[2004.01,393.25],[2004.04,393.25],[2004.03,394.3],[2004.05,395.1],[2004.06,395.5],[2004.08,395.7],[2004.1,395.65],[2004.12,395.7],[2004.14,395.62],[2004.16,395.6],[2004.18,395.55],[2004.2,395.5],[2004.22,395.45],[2004.24,395.35],[2004.26,395.25],[2004.28,395.1],[2004.3,394.95],[2004.32,394.85],[2004.34,394.75],[2004.36,394.65],[2004.38,394.45],[2004.4,394.3],[2004.42,394.15],[2004.44,394.0],[2004.46,393.9],[2004.48,393.75],[2004.5,393.6],[2004.52,393.45],[2004.55,393.32],[2004.58,393.25],[2004.62,393.25],[2004.66,393.25],[2004.7,393.25],[2004.74,393.25],[2004.78,393.25],[2004.82,393.25],[2004.86,393.25],[2004.89,393.25]];

const well53Sim = [[1997.0,399.52],[1997.07,399.45],[1997.14,400.24],[1997.16,399.88],[1997.21,399.64],[1997.3,398.93],[1997.39,398.21],[1997.48,397.86],[1997.62,397.5],[1997.76,397.07],[1997.78,397.74],[1997.8,397.62],[1997.85,398.57],[1997.9,399.4],[1997.94,400.12],[1997.99,399.88],[1998.03,400.0],[1998.1,399.76],[1998.17,399.17],[1998.2,399.88],[1998.26,398.93],[1998.36,398.21],[1998.5,397.86],[1998.67,397.45],[1998.7,400.12],[1998.75,399.88],[1998.82,400.36],[1998.91,399.64],[1999.0,399.59],[1999.09,399.64],[1999.18,399.88],[1999.23,399.4],[1999.32,398.93],[1999.41,398.07],[1999.46,398.69],[1999.51,398.21],[1999.6,397.86],[1999.74,397.38],[1999.85,397.14],[1999.87,399.4],[1999.9,399.88],[1999.94,400.12],[2000.01,399.76],[2000.08,400.07],[2000.12,399.76],[2000.2,400.07],[2000.29,399.4],[2000.38,398.57],[2000.47,398.07],[2000.61,397.74],[2000.8,397.14],[2000.91,397.07],[2000.98,398.45],[2001.02,400.17],[2001.07,399.76],[2001.14,399.93],[2001.21,399.4],[2001.25,400.12],[2001.35,398.93],[2001.44,398.33],[2001.53,397.98],[2001.56,399.05],[2001.6,398.21],[2001.67,397.98],[2001.77,399.05],[2001.85,398.33],[2001.92,398.57],[2001.95,399.76],[2001.99,399.52],[2002.08,399.88],[2002.17,400.12],[2002.26,399.76],[2002.35,399.52],[2002.44,398.69],[2002.54,398.07],[2002.56,399.76],[2002.63,398.93],[2002.72,398.21],[2002.79,397.98],[2002.84,400.12],[2002.91,400.0],[2002.98,400.36],[2003.03,400.12],[2003.1,399.17],[2003.24,398.45],[2003.38,397.74],[2003.52,397.26],[2003.71,397.07],[2003.72,397.38],[2003.73,397.07],[2003.89,397.14],[2003.94,397.74],[2003.99,399.17],[2004.04,400.36],[2004.08,400.0],[2004.13,400.12],[2004.18,399.64],[2004.25,399.76],[2004.32,399.4],[2004.36,399.64],[2004.41,399.17],[2004.5,398.33],[2004.69,397.86],[2004.88,397.21],[2004.9,399.4],[2004.97,399.4],[2005.07,399.64],[2005.12,400.0],[2005.16,399.64],[2005.25,398.93],[2005.35,398.69],[2005.44,398.33],[2005.63,397.74],[2005.77,397.26],[2005.91,398.45],[2005.96,399.4],[2006.03,399.64],[2006.14,400.0],[2006.19,399.52],[2006.26,399.88],[2006.33,399.17],[2006.42,398.45],[2006.56,397.98],[2006.75,397.5],[2006.92,397.07],[2006.99,398.21],[2007.06,400.36],[2007.1,400.0],[2007.15,400.24],[2007.2,399.88],[2007.24,400.36],[2007.29,399.17],[2007.34,398.33],[2007.41,399.17],[2007.5,398.69],[2007.59,399.17],[2007.67,398.45],[2007.74,398.33],[2007.75,400.48]];
const well53Obs = [[2001.19,400.6],[2001.2,400.9],[2001.22,401.2],[2001.23,401.5],[2001.25,401.75],[2001.26,401.5],[2001.27,401.2],[2001.28,400.9],[2001.29,400.6],[2001.31,400.3],[2001.32,400.0],[2001.34,399.8],[2001.35,399.5],[2001.37,399.25],[2001.38,399.0],[2001.4,398.8],[2001.42,398.6],[2001.44,398.4],[2001.46,398.2],[2001.48,398.05],[2001.5,397.9],[2001.53,399.0],[2001.53,397.75],[2001.55,397.6],[2001.58,397.45],[2001.6,397.4],[2001.62,397.35],[2001.64,397.25],[2001.66,397.2],[2001.68,397.1],[2001.7,397.0],[2001.72,396.9],[2001.74,396.8],[2001.76,396.65],[2001.78,396.5],[2001.8,396.45],[2001.82,396.6],[2001.84,396.65],[2001.86,396.7],[2001.88,396.75],[2001.9,396.75],[2001.92,396.8],[2001.91,399.3],[2001.93,400.0],[2001.95,400.7],[2001.97,400.4],[2001.99,399.6],[2002.01,400.4],[2002.03,401.0],[2002.05,401.5],[2002.07,401.8],[2002.09,402.0],[2002.11,401.7],[2002.13,401.5],[2002.15,402.0],[2002.17,401.6],[2002.19,401.3],[2002.21,401.2],[2002.23,401.0],[2002.25,400.8],[2002.27,400.6],[2002.29,400.9],[2002.31,400.5],[2002.33,400.3],[2002.35,400.1],[2002.37,399.9],[2002.39,399.6],[2002.42,399.3],[2002.45,399.0],[2002.48,398.8],[2002.5,398.6],[2002.53,398.4],[2002.56,398.2],[2002.59,398.0],[2002.62,397.9],[2002.64,398.45],[2002.66,397.8],[2002.7,397.7],[2002.74,397.75],[2002.78,397.7],[2002.82,397.75],[2002.83,400.9],[2002.85,401.6],[2002.86,402.1],[2002.88,401.8],[2002.9,401.9],[2002.92,401.5],[2002.94,402.0],[2002.96,402.2],[2002.98,401.8],[2003.0,401.5],[2003.02,401.1],[2003.04,401.3],[2003.06,400.9],[2003.08,400.8],[2003.1,400.6],[2003.12,400.4],[2003.14,400.3],[2003.16,400.1],[2003.18,399.9],[2003.2,399.7],[2003.22,399.6],[2003.24,399.4],[2003.27,399.2],[2003.3,398.9],[2003.33,398.7],[2003.36,398.45],[2003.39,398.2],[2003.42,398.0],[2003.45,397.8],[2003.48,397.6],[2003.51,397.4],[2003.54,397.25],[2003.57,397.1],[2003.61,397.0],[2003.65,396.9],[2003.69,396.85],[2003.73,396.85],[2003.77,396.85],[2003.81,396.85],[2003.85,396.85],[2003.89,396.85],[2003.93,396.85],[2003.97,396.85],[2003.96,398.0],[2003.98,398.4],[2003.99,398.8],[2004.0,397.6],[2004.01,399.2],[2004.02,397.9],[2004.03,399.6],[2004.04,400.0],[2004.05,400.4],[2004.06,400.7],[2004.08,401.1],[2004.1,400.8],[2004.12,400.9],[2004.14,401.0],[2004.17,400.9],[2004.2,401.0],[2004.22,401.1],[2004.25,400.9],[2004.27,400.7],[2004.3,400.5],[2004.32,400.4],[2004.35,400.2],[2004.38,400.0],[2004.41,399.8],[2004.44,399.6],[2004.47,399.4],[2004.5,399.2],[2004.54,398.9],[2004.58,398.6],[2004.62,398.3],[2004.66,398.1],[2004.7,397.9],[2004.75,397.7],[2004.79,397.55],[2004.83,397.45],[2004.88,397.35],[2004.92,397.3],[2004.95,397.3],[2004.96,398.0],[2004.97,398.6],[2004.98,397.6],[2004.99,399.4],[2005.01,399.9],[2005.03,400.4],[2005.05,400.8],[2005.07,401.1],[2005.09,401.4],[2005.11,401.5],[2005.14,401.7],[2005.16,401.8],[2005.19,401.7],[2005.21,401.55],[2005.24,401.3],[2005.26,401.1],[2005.28,400.9],[2005.31,400.7],[2005.33,400.5],[2005.35,400.35],[2005.38,400.1],[2005.41,399.9],[2005.44,399.65],[2005.48,399.4],[2005.52,399.0],[2005.56,398.7],[2005.6,398.3],[2005.64,398.0],[2005.68,397.7],[2005.72,397.4],[2005.75,397.1],[2005.77,396.8],[2005.74,396.2],[2005.76,396.0],[2005.78,396.4],[2005.8,396.6],[2005.91,398.7],[2005.94,399.8],[2005.95,398.0],[2005.96,400.4],[2005.97,399.2],[2005.99,398.5],[2006.0,399.4],[2006.02,399.9],[2006.05,400.1],[2006.07,400.6],[2006.09,399.3],[2006.1,400.9],[2006.12,399.9],[2006.14,401.4],[2006.15,402.1],[2006.17,401.7],[2006.18,400.4],[2006.2,401.0],[2006.22,399.8],[2006.23,401.5],[2006.25,400.3],[2006.27,400.6],[2006.29,401.1],[2006.31,400.8],[2006.33,401.2],[2006.35,401.4],[2006.37,400.9],[2006.39,399.9],[2006.41,399.2],[2006.43,398.7],[2006.46,398.2],[2006.5,397.9],[2006.55,397.7],[2006.6,397.65],[2006.66,397.6],[2006.72,397.6],[2006.78,397.6],[2006.84,397.6],[2006.9,397.6],[2006.96,397.6],[2007.02,397.6],[2007.05,398.2],[2007.06,399.0],[2007.07,399.6],[2007.08,400.3],[2007.09,401.1],[2007.1,401.4],[2007.12,401.6],[2007.14,401.2],[2007.16,401.5],[2007.18,401.3],[2007.19,397.9],[2007.2,397.85],[2007.22,401.8],[2007.24,401.0],[2007.27,400.8],[2007.3,400.6],[2007.33,400.5],[2007.36,400.4],[2007.4,400.35],[2007.45,400.3],[2007.5,400.25],[2007.55,400.3],[2007.58,401.8],[2007.6,399.4],[2007.63,398.7],[2007.67,398.0],[2007.7,397.6],[2007.72,397.4],[2007.74,397.2],[2007.75,400.5],[2007.75,399.0]];

const wellNames = [null, "Well 66,", "Well 62,", "Well 52,", "Well 35,", "Well 53,"];
const wellR2 = ["0.34", "0.74", "0.59", "0.52", "0.53", "0.60"];
const wellDomains = [[395,399],[410,419],[406.5,410.5],[395,401.5],[392.5,396.5],[395,404]];
const wellTicks = [[396,398],[410,415],[408,410],[396,399],[394,396],[395,400]];
const wellSims = [wellTopSim, well66Sim, well62Sim, well52Sim, well35Sim, well53Sim];
const wellObs = [wellTopObs, well66Obs, well62Obs, well52Obs, well35Obs, well53Obs];
const rightYearLabels = [1998, 2000, 2002, 2004, 2006, 2008];
const rightYearTicks = [1998,1999,2000,2001,2002,2003,2004,2005,2006,2007,2008];
const rightLongTicks = [2000, 2005];
const legendRight = ["Observed groundwater levels", "Simulated groundwater levels"];

// ===================== LAYOUT =====================
const SANS = '"Liberation Sans", Arial, Helvetica, sans-serif';
const SERIF = '"Liberation Serif", "Times New Roman", serif';
const BLUE = '#3333ff';
const svg = d3.select('#c');

// ---------- LEFT CHART ----------
const xL = d3.scaleLinear().domain([1997, 2001]).range([174, 1121]);
const dY = d => 1997 + d / 365.25;
const yP = d3.scaleLinear().domain([0, 43]).range([50, 380]);
const yQ = d3.scaleLinear().domain([-2, 14]).range([772, 403]);
const AXL = 127;

function ticksIn(g, axisFn, scale, vals, size){
  g.append('g').call(axisFn(scale).tickValues(vals).tickSize(size).tickFormat(''))
   .call(s => s.select('.domain').remove())
   .call(s => s.selectAll('text').remove())
   .selectAll('line').attr('stroke', '#000').attr('stroke-width', 2);
}

// precipitation
const gP = svg.append('g');
gP.append('line').attr('x1', xL(dY(rainPeriod[0]))).attr('x2', xL(dY(rainPeriod[1])))
  .attr('y1', yP(0) + 1).attr('y2', yP(0) + 1).attr('stroke', BLUE).attr('stroke-width', 3);
gP.selectAll('rect').data(rainEvents).join('rect')
  .attr('x', d => xL(dY(d[0])))
  .attr('width', d => Math.max(1.8, xL(dY(d[1])) - xL(dY(d[0]))))
  .attr('y', yP(0)).attr('height', d => yP(d[2]) - yP(0)).attr('fill', BLUE);

// P axis
const gPa = svg.append('g').attr('transform', `translate(${AXL},0)`);
gPa.append('line').attr('x1', 0).attr('x2', 0).attr('y1', yP(0) - 1).attr('y2', yP(43)).attr('stroke', '#000').attr('stroke-width', 3);
ticksIn(gPa, d3.axisRight, yP, d3.range(0, 43, 2), 5);
ticksIn(gPa, d3.axisRight, yP, precipTicks, 9);
gPa.append('g').call(d3.axisLeft(yP).tickValues(precipTicks).tickSize(0).tickPadding(14))
  .call(s => s.select('.domain').remove())
  .attr('font-family', SANS).attr('font-size', 29);
svg.append('text').attr('transform', `translate(76,244) rotate(-90)`).attr('text-anchor', 'middle')
  .attr('font-family', SANS).attr('font-weight', 'bold').attr('font-size', 27).text('P (mm/d)');

// Discharge panel
svg.append('clipPath').attr('id', 'clipQ').append('rect').attr('x', AXL).attr('y', yQ(14)).attr('width', xL(2001) - AXL + 10).attr('height', yQ(-2) - yQ(14));
const gQ = svg.append('g').attr('clip-path', 'url(#clipQ)');
gQ.selectAll('circle').data(obsDischarge).join('circle')
  .attr('cx', d => xL(dY(d[0]))).attr('cy', d => yQ(d[1])).attr('r', 2.3)
  .attr('fill', 'none').attr('stroke', '#000').attr('stroke-width', 1.1);
const lineQ = d3.line().x(d => xL(dY(d[0]))).y(d => yQ(d[1]));
gQ.append('path').datum(simRunoff).attr('d', lineQ).attr('fill', 'none').attr('stroke', '#11cc11').attr('stroke-width', 3.2);
gQ.append('path').datum(simDischarge).attr('d', lineQ).attr('fill', 'none').attr('stroke', '#dd0000').attr('stroke-width', 3.4);

const gQa = svg.append('g').attr('transform', `translate(${AXL},0)`);
gQa.append('line').attr('x1', 0).attr('x2', 0).attr('y1', yQ(14)).attr('y2', yQ(-2)).attr('stroke', '#000').attr('stroke-width', 3);
ticksIn(gQa, d3.axisRight, yQ, d3.range(-2, 15, 1), 5);
ticksIn(gQa, d3.axisRight, yQ, dischargeTicks, 9);
gQa.append('g').call(d3.axisLeft(yQ).tickValues(dischargeTicks).tickSize(0).tickPadding(14))
  .call(s => s.select('.domain').remove())
  .attr('font-family', SANS).attr('font-size', 29);
svg.append('text').attr('transform', `translate(76,588) rotate(-90)`).attr('text-anchor', 'middle')
  .attr('font-family', SANS).attr('font-weight', 'bold').attr('font-size', 27.5).text('Discharge (mm/day)');

// x axis
const gX = svg.append('g').attr('transform', `translate(0,${yQ(-2)})`);
gX.append('line').attr('x1', AXL - 1.5).attr('x2', xL(2001)).attr('y1', 0).attr('y2', 0).attr('stroke', '#000').attr('stroke-width', 3);
ticksIn(gX, d3.axisTop, xL, d3.range(0, 21).map(i => 1997 + i * 0.2).concat([1996.8]), 5);
ticksIn(gX, d3.axisTop, xL, leftYearTicks, 9);
gX.append('g').call(d3.axisBottom(xL).tickValues(leftYearTicks).tickSize(0).tickPadding(3).tickFormat(d3.format('d')))
  .call(s => s.select('.domain').remove())
  .attr('font-family', SANS).attr('font-size', 28);
svg.append('text').attr('x', 623).attr('y', 828).attr('text-anchor', 'middle')
  .attr('font-family', SANS).attr('font-weight', 'bold').attr('font-size', 31).text('Date');

// left legend
const lg = svg.append('g').attr('font-family', SERIF).attr('font-weight', 'bold').attr('font-size', 27);
lg.append('circle').attr('cx', 801).attr('cy', 507).attr('r', 2.6).attr('fill', 'none').attr('stroke', '#000').attr('stroke-width', 1.3);
lg.append('line').attr('x1', 744).attr('x2', 856).attr('y1', 532).attr('y2', 532).attr('stroke', '#dd0000').attr('stroke-width', 4);
lg.append('line').attr('x1', 744).attr('x2', 856).attr('y1', 561).attr('y2', 561).attr('stroke', '#11cc11').attr('stroke-width', 4);
[505, 532, 560].forEach((y, i) => lg.append('text').attr('x', 870).attr('y', y).attr('dy', '0.35em').text(legendLeft[i]));

// ---------- RIGHT CHART ----------
const xR = d3.scaleLinear().domain([1997, 2009]).range([1370.5, 2369]);
const panelBox = [[-79.3, 45.7], [61, 185.3], [201, 326], [341, 466.7], [481.7, 606.7], [622.3, 748.3]];
const labelY = [[null, 3], [114, 142], [255, 283], [395, 423], [537, 563], [687, 713]];

wellSims.forEach((sim, i) => {
  const [top, bot] = panelBox[i];
  const y = d3.scaleLinear().domain(wellDomains[i]).range([bot, top]);
  const id = 'cw' + i;
  svg.append('clipPath').attr('id', id).append('rect').attr('x', xR(1997)).attr('y', top).attr('width', xR(2009) - xR(1997)).attr('height', bot - top);
  const g = svg.append('g').attr('clip-path', `url(#${id})`);
  g.selectAll('circle').data(wellObs[i]).join('circle')
    .attr('cx', d => xR(d[0])).attr('cy', d => y(d[1])).attr('r', 2.7)
    .attr('fill', 'none').attr('stroke', '#3c3cff').attr('stroke-width', 1.1).attr('stroke-opacity', 0.85);
  g.append('path').datum(sim).attr('d', d3.line().x(d => xR(d[0])).y(d => y(d[1])))
    .attr('fill', 'none').attr('stroke', '#111').attr('stroke-width', 1.2);

  // axes
  const ga = svg.append('g');
  ga.append('line').attr('x1', xR(1997)).attr('x2', xR(1997)).attr('y1', top).attr('y2', bot).attr('stroke', '#333').attr('stroke-width', 2.5);
  ga.append('line').attr('x1', xR(1997) - 1).attr('x2', xR(2009)).attr('y1', bot).attr('y2', bot).attr('stroke', '#333').attr('stroke-width', 2);
  const gx = ga.append('g').attr('transform', `translate(0,${bot})`);
  gx.append('g').call(d3.axisTop(xR).tickValues(rightYearTicks.concat([2009])).tickSize(3).tickFormat(''))
    .call(s => s.select('.domain').remove()).call(s => s.selectAll('text').remove())
    .selectAll('line').attr('stroke', '#333').attr('stroke-width', 1.5);
  gx.append('g').call(d3.axisTop(xR).tickValues(rightLongTicks).tickSize(6).tickFormat(''))
    .call(s => s.select('.domain').remove()).call(s => s.selectAll('text').remove())
    .selectAll('line').attr('stroke', '#333').attr('stroke-width', 2);
  const gy = ga.append('g').attr('transform', `translate(${xR(1997)},0)`);
  gy.append('g').call(d3.axisRight(y).tickValues(wellTicks[i]).tickSize(5).tickFormat(''))
    .call(s => s.select('.domain').remove()).call(s => s.selectAll('text').remove())
    .selectAll('line').attr('stroke', '#333').attr('stroke-width', 1.5);
  gy.append('g').call(d3.axisLeft(y).tickValues(wellTicks[i]).tickSize(0).tickPadding(12).tickFormat(d3.format('d')))
    .call(s => s.select('.domain').remove())
    .attr('font-family', SANS).attr('font-size', 21);
  if (i === wellSims.length - 1) {
    gx.append('g').call(d3.axisBottom(xR).tickValues(rightYearLabels).tickSize(0).tickPadding(6).tickFormat(d3.format('d')))
      .call(s => s.select('.domain').remove())
      .attr('font-family', SANS).attr('font-size', 25);
  }
  // labels
  const lt = svg.append('g').attr('font-family', SANS).attr('font-weight', 'bold').attr('font-size', 26);
  if (wellNames[i]) lt.append('text').attr('x', 2303).attr('y', labelY[i][0]).attr('dy', '0.35em').text(wellNames[i]);
  const t = lt.append('text').attr('x', 2303).attr('y', labelY[i][1]).attr('dy', '0.35em');
  t.append('tspan').text('R');
  t.append('tspan').attr('font-size', 15).attr('dy', '-0.55em').text('2');
  t.append('tspan').attr('dy', '0.55em').text('=' + wellR2[i]);
});

svg.append('text').attr('transform', `translate(1306,321) rotate(-90)`).attr('text-anchor', 'middle')
  .attr('font-family', SANS).attr('font-weight', 'bold').attr('font-size', 27.5).text('Groundwater level (m)');
svg.append('text').attr('x', 1869).attr('y', 773).attr('dy', '0.35em').attr('text-anchor', 'middle')
  .attr('font-family', SANS).attr('font-weight', 'bold').attr('font-size', 26).text('Date');

// right legend
const lr = svg.append('g').attr('font-family', SANS).attr('font-weight', 'bold').attr('font-size', 25);
lr.append('circle').attr('cx', 1976).attr('cy', 802).attr('r', 5).attr('fill', 'none').attr('stroke', '#3c3cff').attr('stroke-width', 2.5);
lr.append('line').attr('x1', 1919).attr('x2', 2032).attr('y1', 833).attr('y2', 833).attr('stroke', '#111').attr('stroke-width', 2.5);
[802, 832].forEach((y, i) => lr.append('text').attr('x', 2052).attr('y', y).attr('dy', '0.35em').text(legendRight[i]));
</script></body></html>
